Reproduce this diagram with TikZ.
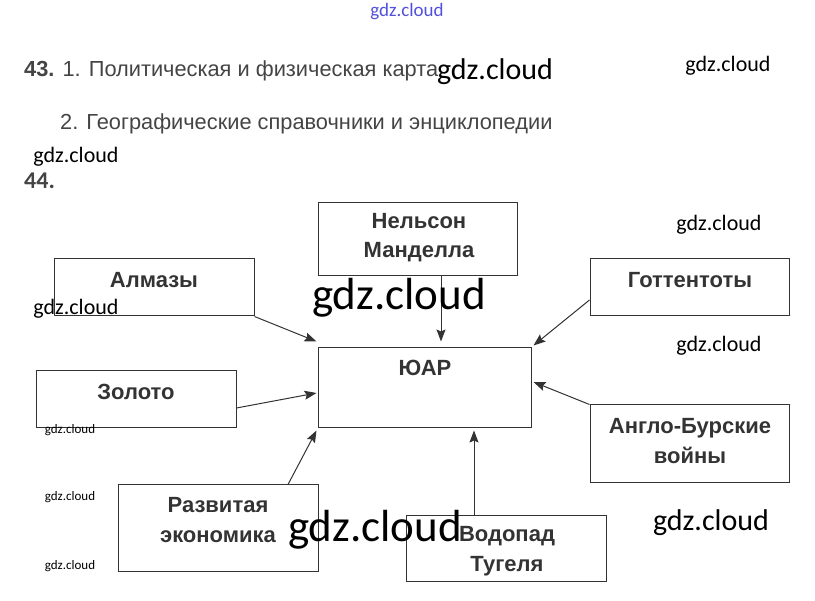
\documentclass[tikz,border=0pt]{standalone}
\usepackage{fontspec}
\setmainfont{Liberation Sans}
\newfontfamily\wmfont{Carlito}
\usetikzlibrary{arrows.meta, calc}
\usepackage{xcolor}
\definecolor{textdark}{RGB}{51, 51, 51}
\definecolor{textgray}{RGB}{68, 68, 68}
\definecolor{wmblue}{RGB}{80, 80, 220}

\begin{document}
\begin{tikzpicture}[
    x=1pt, y=-1pt,
    box/.style={rectangle, draw=textdark, line width=1pt, inner sep=0pt},
    boxtext/.style={font=\fontsize{22}{29.5}\selectfont\bfseries, text=textdark, align=center, inner sep=0pt},
    task/.style={font=\fontsize{21.8}{24}\selectfont, text=textgray, inner sep=0pt, anchor=base west},
    arrow/.style={-{Stealth[length=12pt, width=9pt, inset=2pt]}, line width=1pt, color=textdark},
    wmark/.style={font=\wmfont, text=black, inner sep=0pt}
]
\useasboundingbox (0,0) rectangle (815,601);

% Task text
\node[task] (t43) at (24,77) {\textbf{43.} 1. Политическая и физическая карта};
\node[task] (t43b) at (60,130) {2. Географические справочники и энциклопедии};
\node[task, font=\wmfont\bfseries\fontsize{24}{24}\selectfont] (t44) at (24,189) {44.};

% Centre
\node[box, minimum width=213, minimum height=80] (juar) at (424.5,388) {};
\node[boxtext] (juar-t) at (425,368) {ЮАР};

% Boxes round it
\node[box, minimum width=199, minimum height=73] (mandela) at (417.5,239.5) {};
\node[boxtext] (mandela-t) at (419,237.5) {Нельсон\\Манделла};

\node[box, minimum width=200, minimum height=57] (almazy) at (154,287.5) {};
\node[boxtext] (almazy-t) at (154,280) {Алмазы};

\node[box, minimum width=199, minimum height=57] (gotten) at (689.5,287.5) {};
\node[boxtext] (gotten-t) at (690,280) {Готтентоты};

\node[box, minimum width=200, minimum height=57] (zoloto) at (136,399.5) {};
\node[boxtext] (zoloto-t) at (136,392) {Золото};

\node[box, minimum width=199, minimum height=78] (anglo) at (689.5,444) {};
\node[boxtext] (anglo-t) at (690,441) {Англо-Бурские\\войны};

\node[box, minimum width=200, minimum height=87] (razv) at (218,528.5) {};
\node[boxtext] (razv-t) at (218,520) {Развитая\\экономика};

\node[box, minimum width=200, minimum height=66] (vodopad) at (506,549) {};
\node[boxtext] (vodopad-t) at (507,551) {Водопад\\Тугеля};

% Arrows
\draw[arrow] ($(mandela.south)+(23.5,0)$) -- ($(juar.north)+(16.5,-6)$);
\draw[arrow] (almazy.south east) -- ($(juar.north west)+(-1,-6)$);
\draw[arrow] ($(zoloto.east)+(0,8.5)$) -- ($(juar.west)+(-1,5)$);
\draw[arrow] ($(razv.north)+(70,0)$) -- ($(juar.south west)+(-1,2)$);
\draw[arrow] ($(vodopad.north)+(-32,0)$) -- ($(juar.south)+(49.5,2)$);
\draw[arrow] ($(gotten.west)+(0,12.5)$) -- ($(juar.north east)+(2,-2)$);
\draw[arrow] (anglo.north west) -- ($(juar.east)+(2,-6)$);

% Watermarks
\node[wmark, text=wmblue, font=\wmfont\fontsize{19}{19}\selectfont] (wm1) at (407,12) {gdz.cloud};
\node[wmark, font=\wmfont\fontsize{30}{30}\selectfont] (wm2) at (495,72) {gdz.cloud};
\node[wmark, font=\wmfont\fontsize{22}{22}\selectfont] (wm3) at (728,66) {gdz.cloud};
\node[wmark, font=\wmfont\fontsize{22}{22}\selectfont] (wm4) at (76,157) {gdz.cloud};
\node[wmark, font=\wmfont\fontsize{22}{22}\selectfont] (wm5) at (719,225) {gdz.cloud};
\node[wmark, font=\wmfont\fontsize{22}{22}\selectfont] (wm6) at (76,309) {gdz.cloud};
\node[wmark, font=\wmfont\fontsize{45}{45}\selectfont] (wm7) at (399,298) {gdz.cloud};
\node[wmark, font=\wmfont\fontsize{22}{22}\selectfont] (wm8) at (719,346) {gdz.cloud};
\node[wmark, font=\wmfont\fontsize{13}{13}\selectfont] (wm9) at (70,430) {gdz.cloud};
\node[wmark, font=\wmfont\fontsize{13}{13}\selectfont] (wm10) at (70,497) {gdz.cloud};
\node[wmark, font=\wmfont\fontsize{13}{13}\selectfont] (wm11) at (70,566) {gdz.cloud};
\node[wmark, font=\wmfont\fontsize{45}{45}\selectfont] (wm12) at (375,530) {gdz.cloud};
\node[wmark, font=\wmfont\fontsize{30}{30}\selectfont] (wm13) at (711,523) {gdz.cloud};

\end{tikzpicture}
\end{document}
